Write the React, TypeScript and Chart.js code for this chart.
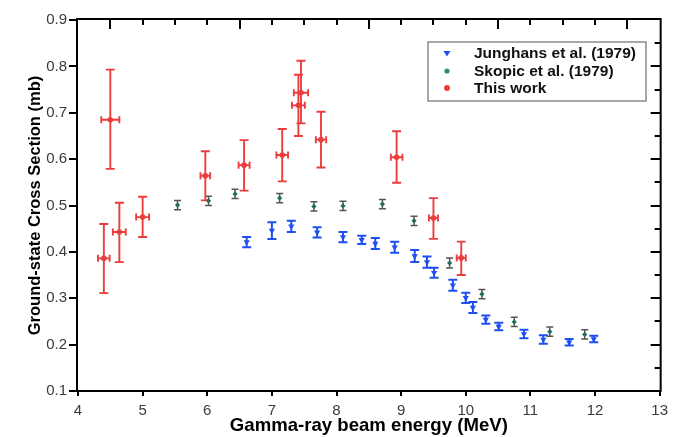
import React, { useEffect, useRef } from "react";
import { Chart, registerables } from "chart.js";

Chart.register(...registerables);

// ---------- data ----------
const seriesLabels = ["Junghans et al. (1979)", "Skopic et al. (1979)", "This work"];

const junghansX = [6.61, 7.0, 7.3, 7.7, 8.1, 8.39, 8.6, 8.9, 9.21, 9.4, 9.51, 9.8, 10.0, 10.11, 10.31, 10.51, 10.9, 11.2, 11.6, 11.98];
const junghansY = [0.421, 0.446, 0.455, 0.442, 0.432, 0.426, 0.418, 0.41, 0.391, 0.378, 0.355, 0.328, 0.301, 0.28, 0.254, 0.239, 0.223, 0.211, 0.205, 0.212];
const junghansErr = [0.011, 0.018, 0.012, 0.011, 0.011, 0.009, 0.012, 0.012, 0.013, 0.012, 0.011, 0.012, 0.011, 0.012, 0.009, 0.008, 0.009, 0.009, 0.007, 0.007];

const skopicX = [5.54, 6.02, 6.43, 7.12, 7.65, 8.1, 8.71, 9.2, 9.75, 10.25, 10.75, 11.3, 11.84];
const skopicY = [0.501, 0.51, 0.525, 0.516, 0.498, 0.499, 0.503, 0.467, 0.376, 0.309, 0.249, 0.228, 0.222];
const skopicErr = [0.01, 0.01, 0.01, 0.01, 0.01, 0.01, 0.01, 0.01, 0.011, 0.01, 0.01, 0.01, 0.01];

const thisWorkX = [4.4, 4.5, 4.64, 5.0, 5.97, 6.57, 7.16, 7.41, 7.45, 7.76, 8.93, 9.5, 9.93];
const thisWorkY = [0.386, 0.685, 0.443, 0.475, 0.564, 0.587, 0.609, 0.716, 0.743, 0.642, 0.604, 0.473, 0.387];
const thisWorkYHi = [0.46, 0.793, 0.506, 0.519, 0.617, 0.641, 0.665, 0.782, 0.812, 0.702, 0.66, 0.516, 0.422];
const thisWorkYLo = [0.311, 0.579, 0.378, 0.432, 0.511, 0.532, 0.552, 0.65, 0.677, 0.582, 0.549, 0.428, 0.35];
const thisWorkXErr = [0.09, 0.14, 0.1, 0.1, 0.075, 0.085, 0.09, 0.1, 0.11, 0.08, 0.09, 0.07, 0.07];

const xMin = 4, xMax = 13, yMin = 0.1, yMax = 0.9;
const xTitle = "Gamma-ray beam energy (MeV)";
const yTitle = "Ground-state Cross Section (mb)";

// ---------- styles ----------
const BLUE = "#1f4ff2";
const TEAL = "#226b63";
const TEAL_LEG = "#2f8a7e";
const GRAY_ERR = "#555555";
const RED = "#ec3d3d";
const FONT = "'Liberation Sans', Arial, Helvetica, sans-serif";

function vbar(ctx: CanvasRenderingContext2D, x: number, yt: number, yb: number, cap: number) {
  ctx.beginPath();
  ctx.moveTo(x, yt); ctx.lineTo(x, yb);
  ctx.moveTo(x - cap, yt); ctx.lineTo(x + cap, yt);
  ctx.moveTo(x - cap, yb); ctx.lineTo(x + cap, yb);
  ctx.stroke();
}
function hbar(ctx: CanvasRenderingContext2D, xl: number, xr: number, y: number, cap: number) {
  ctx.beginPath();
  ctx.moveTo(xl, y); ctx.lineTo(xr, y);
  ctx.moveTo(xl, y - cap); ctx.lineTo(xl, y + cap);
  ctx.moveTo(xr, y - cap); ctx.lineTo(xr, y + cap);
  ctx.stroke();
}

const errorBarPlugin = {
  id: "errorBars",
  beforeDatasetsDraw(chart: any) {
    const ctx: CanvasRenderingContext2D = chart.ctx;
    const xs = chart.scales.x, ys = chart.scales.y;
    ctx.save();
    ctx.lineCap = "butt";
    ctx.strokeStyle = GRAY_ERR; ctx.lineWidth = 1.5;
    skopicX.forEach((v, i) => {
      vbar(ctx, xs.getPixelForValue(v), ys.getPixelForValue(skopicY[i] + skopicErr[i]), ys.getPixelForValue(skopicY[i] - skopicErr[i]), 3.5);
    });
    ctx.strokeStyle = BLUE; ctx.lineWidth = 2;
    junghansX.forEach((v, i) => {
      vbar(ctx, xs.getPixelForValue(v), ys.getPixelForValue(junghansY[i] + junghansErr[i]), ys.getPixelForValue(junghansY[i] - junghansErr[i]), 4.5);
    });
    ctx.strokeStyle = RED; ctx.lineWidth = 1.9;
    thisWorkX.forEach((v, i) => {
      const px = xs.getPixelForValue(v);
      const py = ys.getPixelForValue(thisWorkY[i]);
      vbar(ctx, px, ys.getPixelForValue(thisWorkYHi[i]), ys.getPixelForValue(thisWorkYLo[i]), 4.5);
      hbar(ctx, xs.getPixelForValue(v - thisWorkXErr[i]), xs.getPixelForValue(v + thisWorkXErr[i]), py, 3.5);
    });
    ctx.restore();
  },
};

const framePlugin = {
  id: "frameTicks",
  afterDraw(chart: any) {
    const ctx: CanvasRenderingContext2D = chart.ctx;
    const xs = chart.scales.x, ys = chart.scales.y;
    const { left, right, top, bottom } = chart.chartArea;
    ctx.save();
    ctx.strokeStyle = "#000";
    ctx.lineWidth = 2;
    ctx.strokeRect(left - 1, top - 1, right - left + 2, bottom - top + 1);
    ctx.beginPath();
    for (let v = yMin; v <= yMax + 1e-9; v += 0.1) {
      const py = Math.round(ys.getPixelForValue(v));
      ctx.moveTo(left - 9, py); ctx.lineTo(left - 1, py);
    }
    for (let v = xMin; v <= xMax + 1e-9; v += 1) {
      const px = Math.round(xs.getPixelForValue(v));
      ctx.moveTo(px, bottom); ctx.lineTo(px, bottom + 5);
    }
    for (let v = 4.5; v <= 12.5 + 1e-9; v += 0.5) {
      const px = Math.round(xs.getPixelForValue(v));
      const long = Math.abs(((v - 4.5) % 2)) < 1e-6;
      ctx.moveTo(px, top - 1); ctx.lineTo(px, top + (long ? 9 : 5));
    }
    for (let k = 3; k <= 17; k++) {
      const v = k * 0.05;
      const py = Math.round(ys.getPixelForValue(v));
      const long = k % 2 === 0;
      ctx.moveTo(right + 1, py); ctx.lineTo(right - (long ? 9 : 5), py);
    }
    ctx.stroke();

    // legend
    const bx = 428, by = 42, bw = 218, bh = 59;
    ctx.fillStyle = "#fff";
    ctx.fillRect(bx, by, bw, bh);
    ctx.strokeStyle = "#8a8a8a";
    ctx.lineWidth = 1.5;
    ctx.strokeRect(bx, by, bw, bh);
    const rows = [53.5, 71, 88];
    const mx = 447;
    ctx.fillStyle = BLUE;
    ctx.beginPath();
    ctx.moveTo(mx - 3.5, rows[0] - 2.5); ctx.lineTo(mx + 3.5, rows[0] - 2.5); ctx.lineTo(mx, rows[0] + 3);
    ctx.closePath(); ctx.fill();
    ctx.fillStyle = TEAL_LEG;
    ctx.beginPath(); ctx.arc(mx, rows[1], 2.6, 0, Math.PI * 2); ctx.fill();
    ctx.fillStyle = RED;
    ctx.beginPath(); ctx.arc(mx, rows[2], 3, 0, Math.PI * 2); ctx.fill();
    ctx.fillStyle = "#111";
    ctx.font = `bold 15.5px ${FONT}`;
    ctx.textBaseline = "middle";
    ctx.textAlign = "left";
    seriesLabels.forEach((t, i) => ctx.fillText(t, 474, rows[i] + 0.5));
    ctx.restore();
  },
};

export default function App() {
  const ref = useRef<HTMLCanvasElement | null>(null);
  useEffect(() => {
    if (!ref.current) return;
    const chart = new Chart(ref.current, {
      type: "scatter",
      data: {
        datasets: [
          {
            label: seriesLabels[0],
            data: junghansX.map((x, i) => ({ x, y: junghansY[i] })),
            pointStyle: "triangle",
            rotation: 180,
            pointRadius: 3.6,
            backgroundColor: BLUE,
            borderColor: BLUE,
            borderWidth: 0,
          },
          {
            label: seriesLabels[1],
            data: skopicX.map((x, i) => ({ x, y: skopicY[i] })),
            pointStyle: "rectRot",
            pointRadius: 2.6,
            backgroundColor: TEAL,
            borderColor: TEAL,
            borderWidth: 0,
          },
          {
            label: seriesLabels[2],
            data: thisWorkX.map((x, i) => ({ x, y: thisWorkY[i] })),
            pointStyle: "circle",
            pointRadius: 2.8,
            backgroundColor: RED,
            borderColor: RED,
            borderWidth: 0,
          },
        ],
      },
      options: {
        animation: false,
        responsive: true,
        maintainAspectRatio: false,
        layout: { padding: { left: 26, right: 16, top: 15, bottom: 0 } },
        plugins: { legend: { display: false }, tooltip: { enabled: false } },
        scales: {
          x: {
            type: "linear",
            min: xMin,
            max: xMax,
            grid: { display: false, drawTicks: false },
            border: { display: false },
            ticks: { stepSize: 1, padding: 11, color: "#3a3a3a", font: { size: 15, family: FONT } },
            title: { display: true, text: xTitle, color: "#000", padding: 0, font: { size: 18.6, weight: "bold", family: FONT } },
            afterFit: (s: any) => { s.height = 46; },
          },
          y: {
            type: "linear",
            min: yMin,
            max: yMax,
            grid: { display: false, drawTicks: false },
            border: { display: false },
            ticks: { stepSize: 0.1, padding: 11, color: "#3a3a3a", font: { size: 15, family: FONT }, callback: (v: any) => Number(v).toFixed(1) },
            title: { display: true, text: yTitle, color: "#000", padding: 0, font: { size: 16.5, weight: "bold", family: FONT } },
            afterFit: (s: any) => { s.width = 52; },
          },
        },
      },
      plugins: [errorBarPlugin, framePlugin],
    });
    return () => chart.destroy();
  }, []);
  return (
    <div style={{ position: "fixed", left: 0, top: 0, width: 679, height: 437, background: "#fff" }}>
      <canvas ref={ref} />
    </div>
  );
}
